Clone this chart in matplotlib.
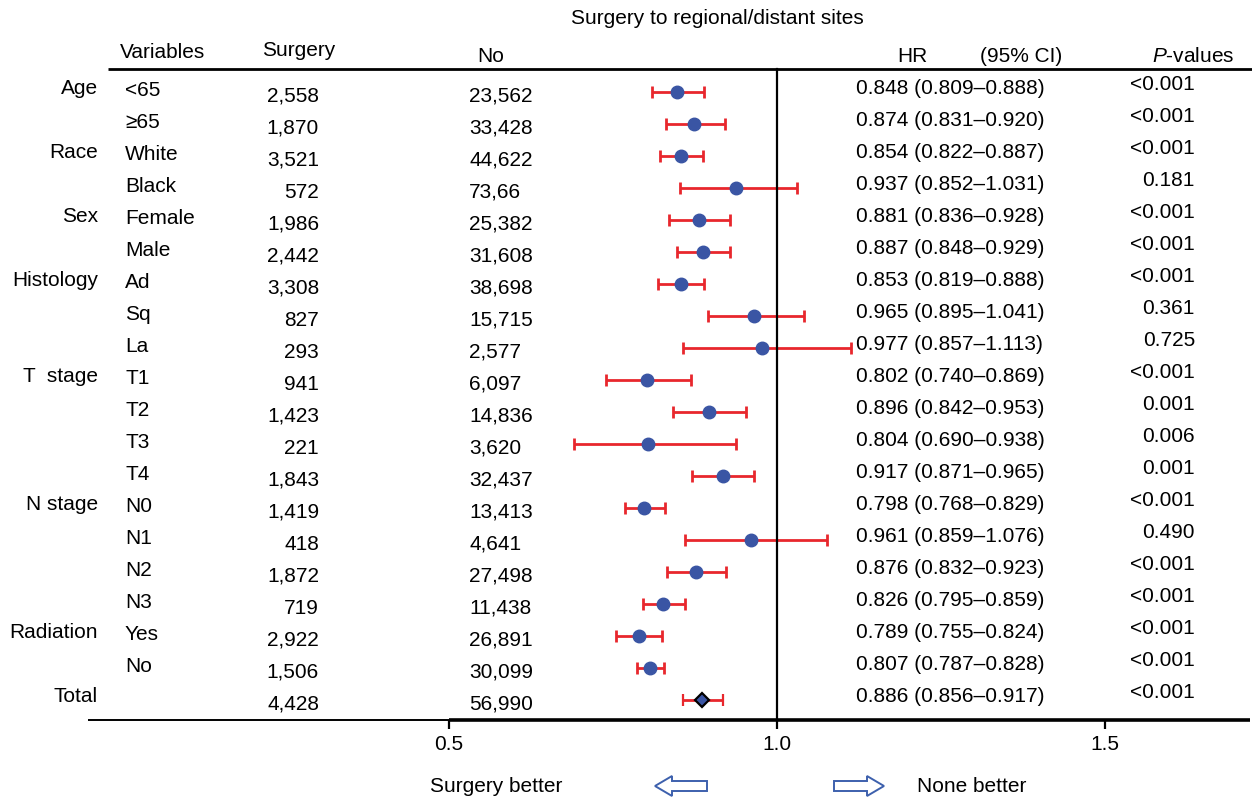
import matplotlib
matplotlib.use("Agg")
import matplotlib.pyplot as plt
from matplotlib.patches import Polygon
import numpy as np

plt.rcParams['font.family'] = ['Liberation Sans', 'DejaVu Sans']
plt.rcParams['mathtext.fontset'] = 'custom'
plt.rcParams['mathtext.rm'] = 'Liberation Sans'
plt.rcParams['mathtext.it'] = 'Liberation Sans:italic'

# ---------------- data ----------------
title = "Surgery to regional/distant sites"
group_labels = ["Age", "", "Race", "", "Sex", "", "Histology", "", "", "T  stage", "", "", "",
                "N stage", "", "", "", "Radiation", "", "Total"]
subgroups = ["<65", "≥65", "White", "Black", "Female", "Male", "Ad", "Sq", "La",
             "T1", "T2", "T3", "T4", "N0", "N1", "N2", "N3", "Yes", "No", ""]
surgery_n = ["2,558", "1,870", "3,521", "572", "1,986", "2,442", "3,308", "827", "293",
             "941", "1,423", "221", "1,843", "1,419", "418", "1,872", "719", "2,922", "1,506", "4,428"]
no_n = ["23,562", "33,428", "44,622", "73,66", "25,382", "31,608", "38,698", "15,715", "2,577",
        "6,097", "14,836", "3,620", "32,437", "13,413", "4,641", "27,498", "11,438", "26,891",
        "30,099", "56,990"]
hr = [0.848, 0.874, 0.854, 0.937, 0.881, 0.887, 0.853, 0.965, 0.977, 0.802, 0.896, 0.804,
      0.917, 0.798, 0.961, 0.876, 0.826, 0.789, 0.807, 0.886]
ci_lo = [0.809, 0.831, 0.822, 0.852, 0.836, 0.848, 0.819, 0.895, 0.857, 0.740, 0.842, 0.690,
         0.871, 0.768, 0.859, 0.832, 0.795, 0.755, 0.787, 0.856]
ci_hi = [0.888, 0.920, 0.887, 1.031, 0.928, 0.929, 0.888, 1.041, 1.113, 0.869, 0.953, 0.938,
         0.965, 0.829, 1.076, 0.923, 0.859, 0.824, 0.828, 0.917]
pvals = ["<0.001", "<0.001", "<0.001", "0.181", "<0.001", "<0.001", "<0.001", "0.361", "0.725",
         "<0.001", "0.001", "0.006", "0.001", "<0.001", "0.490", "<0.001", "<0.001", "<0.001",
         "<0.001", "<0.001"]
xticks = [0.5, 1.0, 1.5]
xtick_labels = ["0.5", "1.0", "1.5"]

# ---------------- layout ----------------
W, H = 1252, 800
X_ONE, XSCALE = 777.0, 656.0   # pixel of HR=1.0, pixels per unit
ROW0, ROWH = 92.0, 32.0

fig = plt.figure(figsize=(W / 100, H / 100), dpi=100)
ax = fig.add_axes([0, 0, 1, 1])
ax.axis('off')
ax.set_xlim(1 - X_ONE / XSCALE, 1 + (W - X_ONE) / XSCALE)
ax.set_ylim((H - ROW0) / ROWH, -ROW0 / ROWH)


def px(xp):
    return 1 + (xp - X_ONE) / XSCALE


def py(yp):
    return (yp - ROW0) / ROWH


FS = 15
BLUE = "#3a55a4"
RED = "#e8272d"
ARROW = "#3d60ad"

n = len(hr)
rows = np.arange(n)
hr_a = np.array(hr)
lo_a = np.array(ci_lo)
hi_a = np.array(ci_hi)

# header
ax.text(px(717), py(19), title, ha='center', va='center', fontsize=FS)
ax.text(px(120), py(53), "Variables", ha='left', va='center', fontsize=FS)
ax.text(px(262), py(51), "Surgery", ha='left', va='center', fontsize=FS)
ax.text(px(477), py(56), "No", ha='left', va='center', fontsize=FS)
ax.text(px(897), py(56), "HR", ha='left', va='center', fontsize=FS)
ax.text(px(980), py(56), "(95% CI)", ha='left', va='center', fontsize=FS)
ax.text(px(1152), py(56), "$\\mathit{P}$-values", ha='left', va='center', fontsize=FS)

# lines
ax.plot([px(108), px(1252)], [py(69), py(69)], color='black', lw=2.0, solid_capstyle='butt', zorder=3)
ax.plot([px(88), px(449)], [py(720), py(720)], color='black', lw=1.4, solid_capstyle='butt', zorder=3)
ax.plot([px(449), px(1250)], [py(720), py(720)], color='black', lw=2.6, solid_capstyle='butt', zorder=3)
ax.plot([1.0, 1.0], [py(69), py(720)], color='black', lw=1.6, zorder=5)
for t, lab in zip(xticks, xtick_labels):
    ax.plot([t, t], [py(720), py(729)], color='black', lw=1.6, solid_capstyle='butt', zorder=3)
    ax.text(t, py(745), lab, ha='center', va='center', fontsize=FS)

# table text
for i in range(n):
    if group_labels[i]:
        ax.text(px(98), i + py(ROW0 - 3), group_labels[i], ha='right', va='center', fontsize=FS)
    if subgroups[i]:
        ax.text(px(125), i + py(ROW0 - 2), subgroups[i], ha='left', va='center', fontsize=FS)
    ax.text(px(319), i + py(ROW0 + 4), surgery_n[i], ha='right', va='center', fontsize=FS)
    ax.text(px(469), i + py(ROW0 + 4), no_n[i], ha='left', va='center', fontsize=FS)
    ax.text(px(856), i + py(ROW0 - 4), f"{hr[i]:.3f} ({ci_lo[i]:.3f}–{ci_hi[i]:.3f})",
            ha='left', va='center', fontsize=FS)
    ax.text(px(1195), i + py(ROW0 - 8), pvals[i], ha='right', va='center', fontsize=FS)

# forest marks
sub = rows[:-1]
ax.errorbar(hr_a[:-1], sub, xerr=[hr_a[:-1] - lo_a[:-1], hi_a[:-1] - hr_a[:-1]],
            fmt='o', color=BLUE, ms=9, ecolor=RED, elinewidth=2.0, capsize=4.5,
            capthick=2.0, zorder=4)
ax.errorbar(hr_a[-1:], rows[-1:], xerr=[hr_a[-1:] - lo_a[-1:], hi_a[-1:] - hr_a[-1:]],
            fmt='D', color=BLUE, mec='black', mew=1.6, ms=7, ecolor=RED, elinewidth=2.0,
            capsize=4.5, capthick=2.0, zorder=4)

# bottom annotations
ax.text(px(430), py(786), "Surgery better", ha='left', va='center', fontsize=FS)
ax.text(px(917), py(786), "None better", ha='left', va='center', fontsize=FS)


def arrow_poly(tail, tip, yc, head_len=17, half_h=10, half_s=5):
    d = 1 if tip > tail else -1
    hb = tip - d * head_len
    pts = [(tail, yc - half_s), (hb, yc - half_s), (hb, yc - half_h), (tip, yc),
           (hb, yc + half_h), (hb, yc + half_s), (tail, yc + half_s)]
    return [(px(a), py(b)) for a, b in pts]


for tail, tip in [(707, 655), (834, 884)]:
    ax.add_patch(Polygon(arrow_poly(tail, tip, 786), closed=True, facecolor='white',
                         edgecolor=ARROW, lw=1.4, zorder=3))

fig.savefig("out.png", dpi=100)
